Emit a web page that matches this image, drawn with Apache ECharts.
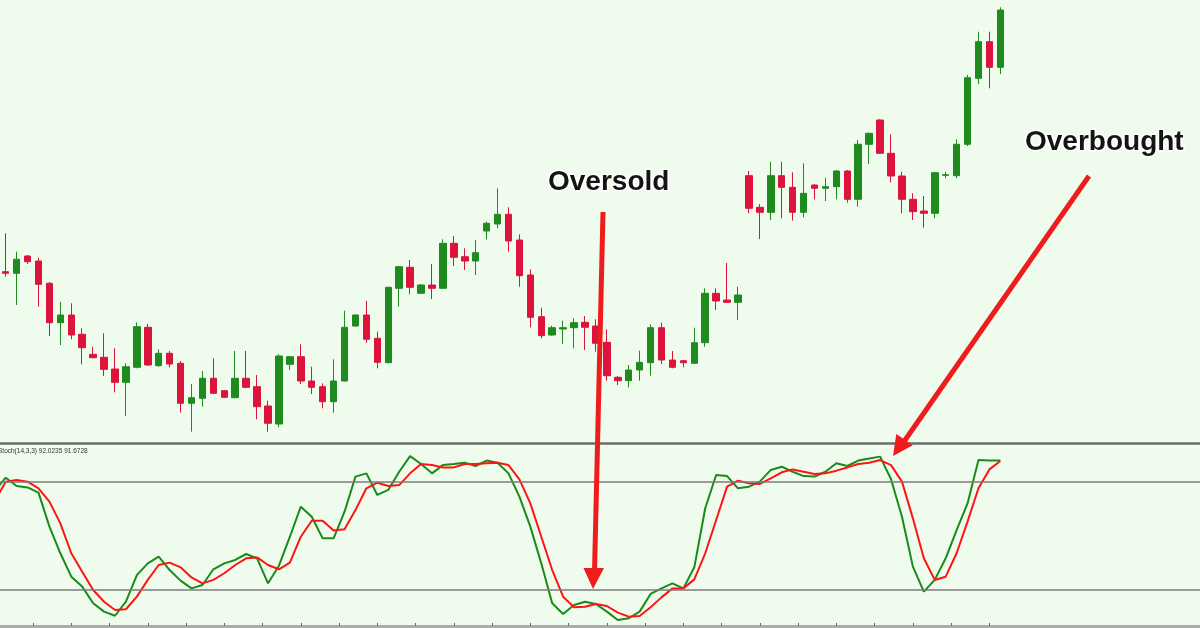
<!DOCTYPE html>
<html><head><meta charset="utf-8">
<script src="https://cdn.jsdelivr.net/npm/echarts@6/dist/echarts.min.js"></script>
<style>html,body{margin:0;padding:0;background:#effced;}#c{width:1200px;height:628px;}</style>
</head><body><div id="c"></div>
<script>
// Candles (price units, bar 0 = leftmost visible candle)
const opens  = [168.3,166.7,184,179,156.7,117.3,125,105.7,85.7,82.7,71,57.7,72.7,112.7,74.3,86.7,76.7,36.7,41.7,61.7,49.3,42.3,61.7,53.3,34,16,75.7,83.3,59,53.3,38.3,59,114,125,101.7,77.3,151.7,172.7,146.7,155,151.7,196.7,183.3,179,209,216,225.7,200,165,123.3,105,111,112.3,117.7,114,97.7,62.7,59.3,70,77.3,112.3,80,79.3,76.7,97.3,146.7,140,137.7,264.3,232.7,227.7,264.3,252.7,227.7,255,251.7,253.3,269,240.7,295.7,320,286.7,264,240.7,229,226.7,264.7,264.3,295.7,361.7,398.3,372.7];
const closes = [166.7,180.7,178.3,155.7,117.3,125,105,92.3,82.3,70.7,57.7,73.3,113.3,75,86.7,76,36.7,42.3,61.7,46.7,42.7,61.7,52.7,33.3,16.7,84,83.3,59,52.7,38.3,59,112.7,125,100.7,77.7,152.7,173.3,152.7,155,151.7,196.7,182.7,179,187.3,216.7,225.7,199,164.3,122.7,104.3,112.3,112.3,117.3,112.7,96.7,64.3,59.3,70,77.7,112.3,80,72.7,77.3,97.3,146.7,139,137.7,145,231.7,227.7,264.3,252.7,227.7,246.7,251.7,253.3,269,240.7,295.7,306.7,286.7,264,240.7,228.3,226.7,267.3,265.3,295.7,362.3,398.3,372.7,430];
const lows   = [163.3,135,176,133.3,104,95,100.7,75.7,81.7,64,47.7,24,71.7,74,73.3,72.7,27.3,8.3,33.3,46,42.3,41.7,51.7,20.7,8.3,12.7,70,56,46,31.7,27.3,58.3,113.3,97.3,71.7,76.7,133.3,145.7,146,141,151,174,170,165,200.7,211.7,188.3,153.3,112.7,101.7,104.3,96,91.7,90,88.3,59.3,55,52.7,59.3,64.3,76,71.7,72.7,76,93.3,130,137.3,120,226.7,201,220,221.7,219.3,222.7,240.7,239,240.7,237.3,233.3,276,286,257.7,226.7,220,212.3,221.7,261.7,261.7,294,356,351.7,366];
const highs  = [206.7,188.3,185,182.3,158,138.3,136.7,111.7,93.3,106.7,91.7,76.7,117.7,116,90.7,89,79,56,69,81.7,50,89,89,65,39.3,85.7,84,95.7,73.3,56.7,80.7,129.3,125.7,139,108.3,153.3,174,180,156,176,200.7,204,191.7,200,218.3,251.7,232.7,205.7,170.7,132.3,114.3,119.3,121.7,124,120.7,110.7,64,75,89.3,115.7,117.3,89,80,112.3,151.7,151.7,177,153.3,269,236,278.3,278.3,267.7,276.7,255.7,262.3,270,270,300,307.3,320.7,305.7,268.3,246.7,244,268.3,268.3,300.7,365,408.3,408.3,432.7];

// Stochastic (14,3,3): first value belongs to the bar just left of the visible window (bar -1)
const stochK = [75.2,82.4,77.8,77.0,74.1,55.2,40.4,27.4,21.9,12.6,8.0,5.7,13.5,28.3,34.8,38.5,31.1,25.2,20.9,22.8,31.5,34.8,36.7,40.0,37.6,23.7,33.5,49.6,66.3,60.7,48.7,48.7,63.5,83.0,84.8,72.8,75.6,85.7,94.4,90.0,84.8,89.4,90.0,90.7,88.9,91.9,90.7,84.8,71.9,55.2,34.8,12.6,6.7,11.7,13.5,12.2,8.0,3.3,4.3,8.0,17.8,20.9,23.7,20.9,32.6,65.4,83.9,83.3,76.5,77.4,80.2,86.7,88.5,85.7,83.3,83.0,85.7,90.4,88.9,91.9,93.1,94.1,81.5,60.7,33.0,19.1,25.6,37.6,53.3,68.1,92.2,91.9,92.0];
const stochD = [69.4,80.2,81.1,80.2,76.5,69.1,57.0,40.4,30.2,20.0,13.5,8.9,9.3,16.3,25.6,33.9,35.2,32.6,27.0,23.7,25.6,29.3,33.9,37.6,38.1,33.9,31.5,35.2,49.6,58.5,58.5,53.0,53.7,64.4,76.5,79.6,77.8,78.3,84.8,90.0,89.4,88.1,88.1,90.0,90.0,90.4,90.7,89.4,81.5,68.1,49.6,31.1,16.3,10.4,10.7,12.2,11.1,7.4,5.2,5.6,10.4,15.9,20.9,20.9,25.9,40.4,58.9,77.4,80.7,79.3,78.9,82.0,85.4,87.0,85.7,84.4,84.8,86.3,88.1,90.0,90.7,92.2,89.4,80.2,59.8,37.6,25.6,27.4,40.4,58.0,76.5,87.0,91.7];
const levels = [20, 80];
const stochLabel = 'Stoch(14,3,3) 92.0235 91.6728';

const categories = opens.map((_, i) => String(i));
const candles = opens.map((o, i) => [o, closes[i], lows[i], highs[i]]);
const kData = stochK.map((v, i) => [i - 1, v]);
const dData = stochD.map((v, i) => [i - 1, v]);

// layout: candle bands of BW px, first band starting at PAD px
const BW = 10.93, PAD = 0.24;
const plotW = categories.length * BW;
const GR = 1200 - PAD - plotW;
const xMin = -PAD / BW - 0.5;
const xMax = xMin + (PAD + plotW) / BW;
const tickVals = [];
for (let t = -1; t <= categories.length; t += 3.5) tickVals.push(t);

const chart = echarts.init(document.getElementById('c'));
chart.setOption({
  backgroundColor: '#effced',
  animation: false,
  grid: [
    {left: PAD, right: GR, top: 0, bottom: 185},
    {left: 0, right: GR, top: 446, bottom: 2},
    {left: 0, right: 0, top: 443, bottom: 2}
  ],
  xAxis: [
    {type: 'category', gridIndex: 0, data: categories, show: false},
    {type: 'value', gridIndex: 1, min: xMin, max: xMax, position: 'bottom',
     axisLine: {show: false}, axisLabel: {show: false}, splitLine: {show: false},
     axisTick: {show: true, inside: true, length: 3, lineStyle: {color: '#666', width: 1}, customValues: tickVals}},
    {type: 'value', gridIndex: 2, min: 0, max: 1, position: 'top',
     axisLine: {onZero: false, lineStyle: {color: '#6c6c6c', width: 2.5}},
     axisTick: {show: false}, axisLabel: {show: false}, splitLine: {show: false}},
    {type: 'value', gridIndex: 2, min: 0, max: 1, position: 'bottom',
     axisLine: {onZero: false, lineStyle: {color: '#a9ada9', width: 3}},
     axisTick: {show: false}, axisLabel: {show: false}, splitLine: {show: false}}
  ],
  yAxis: [
    {type: 'value', gridIndex: 0, min: -3, max: 440, show: false},
    {type: 'value', gridIndex: 1, min: 0, max: 100, show: false},
    {type: 'value', gridIndex: 2, min: 0, max: 183 / 1.8, show: false}
  ],
  series: [
    {type: 'candlestick', xAxisIndex: 0, yAxisIndex: 0, data: candles, barWidth: 7,
     itemStyle: {color: '#1f8b1f', color0: '#dc143c', borderColor: '#1f8b1f', borderColor0: '#dc143c', borderWidth: 1}},
    {type: 'line', xAxisIndex: 2, yAxisIndex: 2, data: [[0.5, 50]], showSymbol: false, symbol: 'none',
     lineStyle: {opacity: 0}, silent: true,
     markLine: {silent: true, symbol: ['none', 'none'], label: {show: false},
       lineStyle: {color: '#7b7b7b', width: 1.5, type: 'solid'},
       data: levels.map(v => ({yAxis: v}))}},
    {type: 'line', xAxisIndex: 1, yAxisIndex: 1, data: kData, symbol: 'none', clip: true,
     lineStyle: {color: '#1a8a1a', width: 2}},
    {type: 'line', xAxisIndex: 1, yAxisIndex: 1, data: dData, symbol: 'none', clip: true,
     lineStyle: {color: '#ff1414', width: 2}}
  ],
  graphic: [
    {type: 'text', x: -2, y: 448, z: 50, style: {text: stochLabel, font: '6.5px "Liberation Sans"', fill: '#333'}},
    {type: 'line', z: 100, shape: {x1: 603, y1: 212, x2: 594.5, y2: 572}, style: {stroke: '#ee1c1c', lineWidth: 5}},
    {type: 'polygon', z: 100, shape: {points: [[583.5, 568], [604, 568], [593, 589]]}, style: {fill: '#ee1c1c'}},
    {type: 'line', z: 100, shape: {x1: 1089, y1: 176, x2: 903, y2: 443}, style: {stroke: '#ee1c1c', lineWidth: 5}},
    {type: 'polygon', z: 100, shape: {points: [[912.7, 445.3], [896.3, 433.9], [893, 456]]}, style: {fill: '#ee1c1c'}},
    {type: 'text', x: 548, y: 182, z: 100, style: {text: 'Oversold', font: 'bold 28px "Liberation Sans"', fill: '#141414',
      stroke: '#ffffff', lineWidth: 3, textVerticalAlign: 'middle', shadowColor: 'rgba(0,0,0,0.35)', shadowBlur: 3}},
    {type: 'text', x: 1025, y: 142, z: 100, style: {text: 'Overbought', font: 'bold 28px "Liberation Sans"', fill: '#141414',
      stroke: '#ffffff', lineWidth: 3, textVerticalAlign: 'middle', shadowColor: 'rgba(0,0,0,0.35)', shadowBlur: 3}}
  ]
});
</script></body></html>
